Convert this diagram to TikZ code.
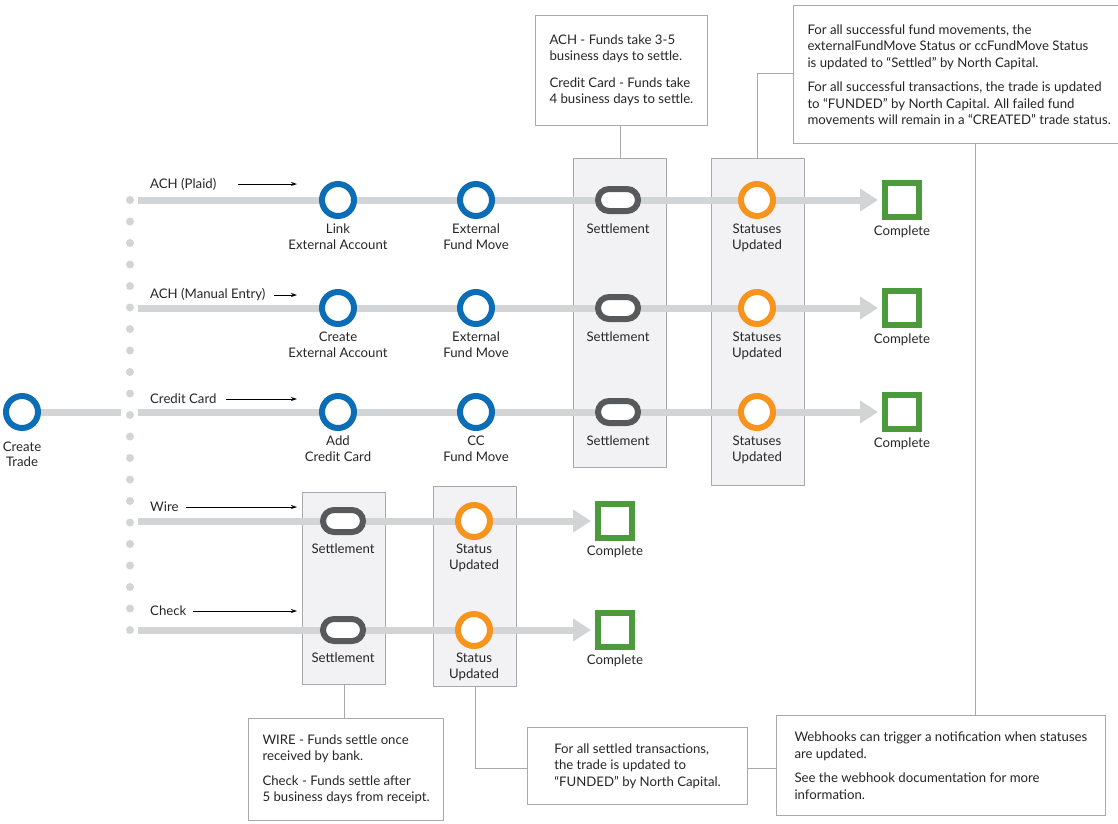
\documentclass[tikz,border=0pt]{standalone}
\usepackage{fontspec}
\setmainfont{Lato}
\usetikzlibrary{arrows.meta,backgrounds,shapes.misc}
\definecolor{bl}{HTML}{0A6DB5}
\definecolor{pg}{HTML}{58595B}
\definecolor{og}{HTML}{F7941D}
\definecolor{gr}{HTML}{4C9A3B}
\definecolor{ln}{HTML}{D3D4D6}
\definecolor{bx}{HTML}{F2F2F4}
\definecolor{bd}{HTML}{A7A9AC}
\begin{document}
\begin{tikzpicture}[x=1pt,y=-1pt,
  every node/.style={font=\fontsize{13.2}{16.5}\selectfont, text=black!85},
  ring/.style={circle,draw=#1,line width=6pt,fill=white,minimum size=32pt,inner sep=0},
  pill/.style={rounded rectangle,draw=pg,line width=6pt,fill=white,minimum width=40pt,minimum height=22pt,inner sep=0},
  sq/.style={rectangle,draw=gr,line width=6pt,fill=white,minimum size=34pt,inner sep=0},
  lab/.style={align=center,anchor=north},
  flow/.style={ln,line width=7pt,-{Triangle[length=18pt,width=22pt]}},
  flowp/.style={ln,line width=7pt},
  gbox/.style={draw=bd,fill=bx,line width=1pt,anchor=north west,inner sep=0},
  note/.style={draw=bd,fill=white,line width=1pt,align=left,anchor=north west,inner xsep=14pt,inner ysep=10pt},
  conn/.style={bd,line width=1pt},
  rarr/.style={black,line width=0.8pt,-{Stealth[length=6pt,width=4pt]}},
  dot/.style={circle,fill=ln,inner sep=0,minimum size=8pt}]
\useasboundingbox (0,0) rectangle (1118,823);
% grey boxes (background, drawn first)
\begin{scope}[on background layer]
\node[gbox,minimum width=93pt,minimum height=309pt] (b1) at (573,158) {};
\node[gbox,minimum width=93pt,minimum height=327pt] (b2) at (711,158) {};
\node[gbox,minimum width=83pt,minimum height=192pt] (b3) at (302,492) {};
\node[gbox,minimum width=83pt,minimum height=200pt] (b4) at (433,486) {};
\end{scope}
% dots
\foreach \i in {0,...,20} \node[dot] at (130,{200+\i*21.5}) {};
% create trade
\node[ring=bl] (ct) at (22,412) {};
\node[lab] at (22,438) {Create\\[-1pt]Trade};
\coordinate (ctj) at (121,412);
\begin{scope}[on background layer]
\draw[flowp] (ct) -- (ctj);
\end{scope}
% rows
\foreach \y/\n/\la/\lb in {200/1/Link\\External Account/External\\Fund Move,
  308/2/Create\\External Account/External\\Fund Move,
  412/3/Add\\Credit Card/CC\\Fund Move}{
  \coordinate (s\n) at (138,\y);
  \node[ring=bl] (a\n) at (338,\y) {};
  \node[ring=bl] (e\n) at (476,\y) {};
  \node[pill] (p\n) at (618,\y) {};
  \node[ring=og] (o\n) at (757,\y) {};
  \node[sq] (c\n) at (902,\y) {};
  \node[lab] at (338,\y+20) {\la};
  \node[lab] at (476,\y+20) {\lb};
  \node[lab] at (618,\y+20) {Settlement};
  \node[lab] at (757,\y+20) {Statuses\\Updated};
  \node[lab] at (902,\y+22) {Complete};
  \begin{scope}[on background layer]
  \draw[flow] (s\n) -- ([xshift=-4pt]c\n.west);
  \end{scope}
}
\foreach \y/\n in {521/4,630/5}{
  \coordinate (s\n) at (138,\y);
  \node[pill] (p\n) at (343,\y) {};
  \node[ring=og] (o\n) at (474,\y) {};
  \node[sq] (c\n) at (615,\y) {};
  \node[lab] at (343,\y+19) {Settlement};
  \node[lab] at (474,\y+19) {Status\\Updated};
  \node[lab] at (615,\y+21) {Complete};
  \begin{scope}[on background layer]
  \draw[flow] (s\n) -- ([xshift=-4pt]c\n.west);
  \end{scope}
}
% row labels
\node[anchor=west,inner sep=0] (l1) at (150,184) {ACH (Plaid)};
\coordinate (t1) at (297,184); \draw[rarr] (238,184) -- (t1);
\node[anchor=west,inner sep=0] (l2) at (150,295) {ACH (Manual Entry)};
\coordinate (t2) at (297,295); \draw[rarr] (274,295) -- (t2);
\node[anchor=west,inner sep=0] (l3) at (150,399) {Credit Card};
\coordinate (t3) at (297,399); \draw[rarr] (226,399) -- (t3);
\node[anchor=west,inner sep=0] (l4) at (150,507) {Wire};
\coordinate (t4) at (297,507); \draw[rarr] (186,507) -- (t4);
\node[anchor=west,inner sep=0] (l5) at (150,611) {Check};
\coordinate (t5) at (297,611); \draw[rarr] (193,611) -- (t5);
% notes
\node[note,minimum width=171pt,minimum height=110pt] (n1) at (535,15) {ACH - Funds take 3-5\\business days to settle.\\[10pt]Credit Card - Funds take\\4 business days to settle.};
\node[note,minimum width=317pt,minimum height=138pt,inner ysep=8pt] (n2) at (793,5) {For all successful fund movements, the\\externalFundMove Status or ccFundMove Status\\is updated to “Settled” by North Capital.\\[8pt]For all successful transactions, the trade is updated\\to “FUNDED” by North Capital. All failed fund\\movements will remain in a “CREATED” trade status.};
\node[note,minimum width=189pt,minimum height=102pt] (n3) at (248,718) {WIRE - Funds settle once\\received by bank.\\[8pt]Check - Funds settle after\\5 business days from receipt.};
\node[note,minimum width=220pt,minimum height=77pt,inner xsep=16pt] (n4) at (527,727) {For all settled transactions,\\the trade is updated to\\“FUNDED” by North Capital.};
\node[note,minimum width=314pt,minimum height=100pt,inner xsep=18pt] (n5) at (776,715) {Webhooks can trigger a notification when statuses\\are updated.\\[8pt]See the webhook documentation for more\\information.};
% connectors
\draw[conn] (n1.south -| 620,0) -- (b1.north -| 620,0);
\draw[conn] (b2.north -| 757,0) -- (757,73) -- (n2.west |- 0,73);
\draw[conn] (n2.south -| 975,0) -- (n5.north -| 975,0);
\draw[conn] (b3.south) -- (n3.north -| b3.south);
\draw[conn] (b4.south) -- (b4.south |- 0,768) -- (n4.west |- 0,768);
\draw[conn] (n4.east |- 0,768) -- (n5.west |- 0,768);
\end{tikzpicture}
\end{document}
